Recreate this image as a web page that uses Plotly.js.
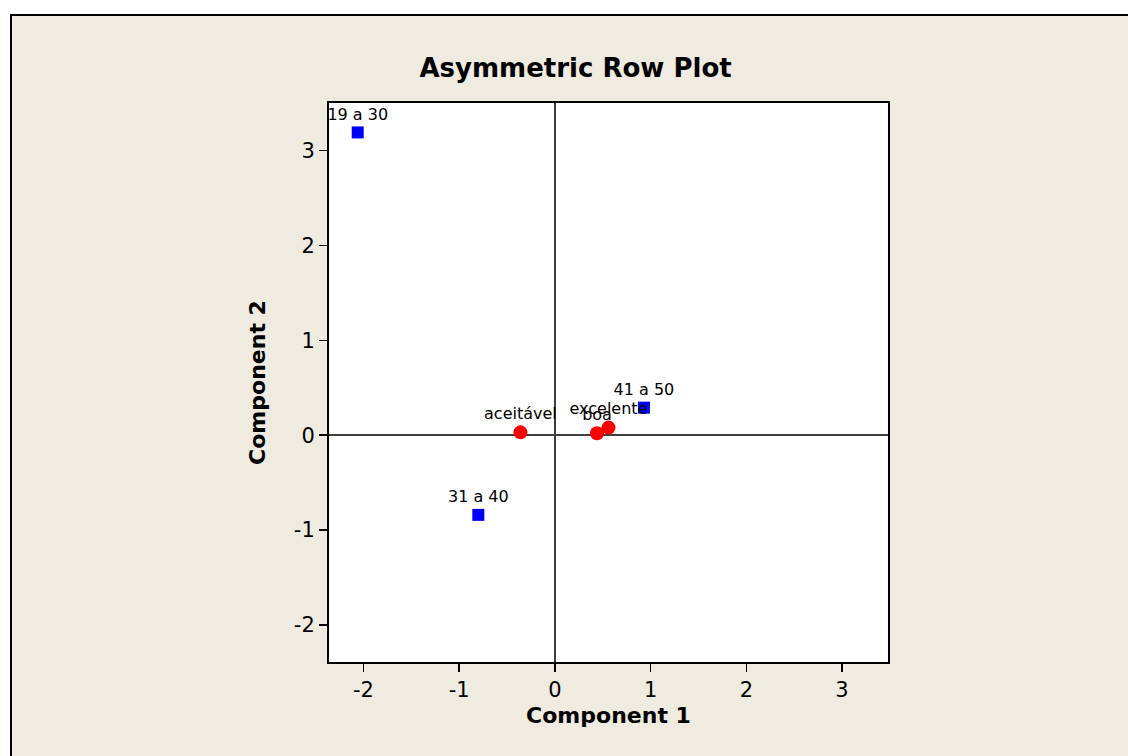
<!DOCTYPE html>
<html>
<head>
<meta charset="utf-8">
<script src="https://cdn.plot.ly/plotly-3.0.1.min.js"></script>
<style>
  html, body { margin:0; padding:0; background:#ffffff; width:1128px; height:756px; overflow:hidden; }
  #frame { position:absolute; left:10px; top:14px; width:1116px; height:740px;
           border-top:2px solid #000; border-left:2px solid #000; background:#EFEBE1; }
  #chart { width:1116px; height:740px; }
</style>
</head>
<body>
<div id="frame"><div id="chart"></div></div>
<script>
// Row points (age groups)
const rowLabels = ["19 a 30", "31 a 40", "41 a 50"];
const rowX = [-2.06, -0.80, 0.93];
const rowY = [3.19, -0.84, 0.29];

// Column points (ratings)
const colLabels = ["aceitável", "boa", "excelente"];
const colX = [-0.36, 0.44, 0.56];
const colY = [0.03, 0.02, 0.08];

const xTicks = [-2, -1, 0, 1, 2, 3];
const yTicks = [-2, -1, 0, 1, 2, 3];

const font = "Verdana, 'DejaVu Sans', sans-serif";

const traces = [
  {
    x: rowX, y: rowY, text: rowLabels, type: "scatter", mode: "markers+text",
    textposition: "top center", cliponaxis: false,
    textfont: {family: font, size: 16, color: "#000"},
    marker: {symbol: "square", size: 12, color: "#0000FF"},
    hoverinfo: "text"
  },
  {
    x: colX, y: colY, text: colLabels, type: "scatter", mode: "markers+text",
    textposition: "top center", cliponaxis: false,
    textfont: {family: font, size: 16, color: "#000"},
    marker: {symbol: "circle", size: 14, color: "#FF0000"},
    hoverinfo: "text"
  }
];

const layout = {
  width: 1116, height: 740,
  paper_bgcolor: "#EFEBE1", plot_bgcolor: "#FFFFFF",
  showlegend: false,
  margin: {l: 317, r: 240, t: 87, b: 94},
  font: {family: font, color: "#000"},
  title: {text: "<b>Asymmetric Row Plot</b>", font: {family: font, size: 26, color: "#000"},
          x: 0.505, xanchor: "center", y: 0.93, yanchor: "middle"},
  xaxis: {
    range: [-2.36, 3.48], tickvals: xTicks, ticktext: xTicks.map(String),
    showgrid: false, zeroline: true, zerolinecolor: "#404040", zerolinewidth: 1.5,
    showline: true, linecolor: "#000", linewidth: 2, mirror: true,
    ticks: "outside", ticklen: 8, tickwidth: 1.5, tickcolor: "#000",
    tickfont: {family: font, size: 21, color: "#000"},
    title: {text: "<b>Component 1</b>", font: {family: font, size: 22, color: "#000"}, standoff: 6}
  },
  yaxis: {
    range: [-2.39, 3.50], tickvals: yTicks, ticktext: yTicks.map(String),
    showgrid: false, zeroline: true, zerolinecolor: "#404040", zerolinewidth: 1.5,
    showline: true, linecolor: "#000", linewidth: 2, mirror: true,
    ticks: "outside", ticklen: 8, tickwidth: 1.5, tickcolor: "#000",
    tickfont: {family: font, size: 21, color: "#000"},
    title: {text: "<b>Component 2</b>", font: {family: font, size: 22, color: "#000"}, standoff: 22}
  }
};

Plotly.newPlot("chart", traces, layout, {displayModeBar: false, staticPlot: true});
</script>
</body>
</html>
